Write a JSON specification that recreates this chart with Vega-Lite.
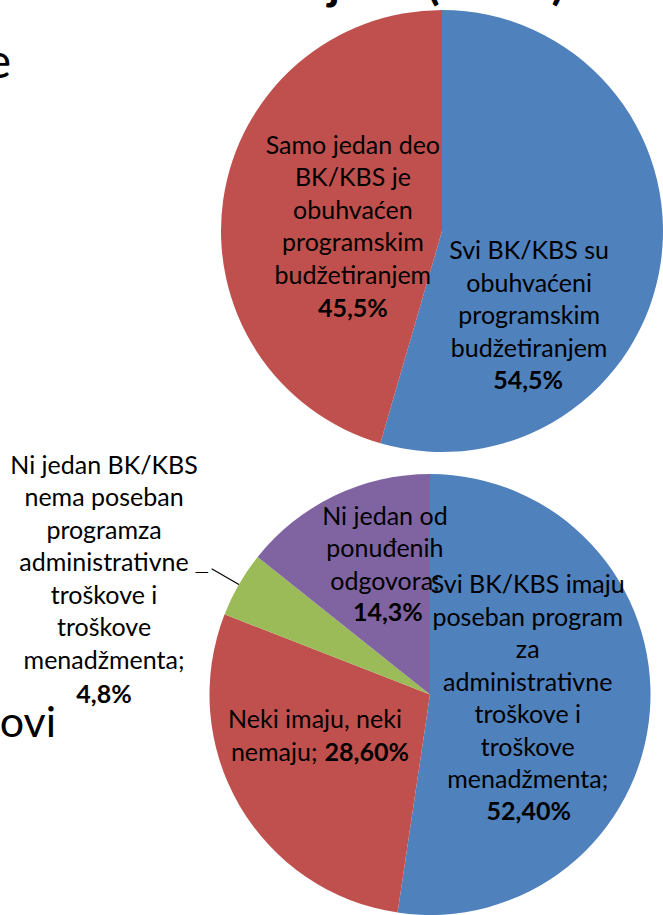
{
  "$schema": "https://vega.github.io/schema/vega-lite/v6.json",
  "padding": 0,
  "background": "white",
  "columns": 2,
  "align": "none",
  "bounds": "flush",
  "spacing": {"row": 12, "column": 0},
  "resolve": {"scale": {"color": "independent"}},
  "config": {
    "view": {"stroke": null},
    "font": "Lato",
    "text": {"font": "Lato", "fontSize": 25, "lineHeight": 32.5, "baseline": "middle", "align": "center", "color": "black"}
  },
  "datasets": {
    "top": [
      {"k": "Svi BK/KBS su obuhvaćeni programskim budžetiranjem", "v": 54.5, "o": 1, "lab": "Svi BK/KBS su\nobuhvaćeni\nprogramskim\nbudžetiranjem", "pct": "54,5%"},
      {"k": "Samo jedan deo BK/KBS je obuhvaćen programskim budžetiranjem", "v": 45.5, "o": 2, "lab": "Samo jedan deo\nBK/KBS je\nobuhvaćen\nprogramskim\nbudžetiranjem", "pct": "45,5%"}
    ],
    "bottom": [
      {"k": "Svi BK/KBS imaju poseban program za administrativne troškove i troškove menadžmenta", "v": 52.4, "o": 1, "lab": "Svi BK/KBS imaju\nposeban program\nza\nadministrativne\ntroškove i\ntroškove\nmenadžmenta;", "lab2": "", "pct": "52,40%"},
      {"k": "Neki imaju, neki nemaju", "v": 28.6, "o": 2, "lab": "Neki imaju, neki", "lab2": "nemaju;", "pct": "28,60%"},
      {"k": "Ni jedan BK/KBS nema poseban programza administrativne troškove i troškove menadžmenta", "v": 4.8, "o": 3, "lab": "Ni jedan BK/KBS\nnema poseban\nprogramza\nadministrativne\ntroškove i\ntroškove\nmenadžmenta;", "lab2": "", "pct": "4,8%"},
      {"k": "Ni jedan od ponuđenih odgovora", "v": 14.3, "o": 4, "lab": "Ni jedan od\nponuđenih\nodgovora;", "lab2": "", "pct": "14,3%"}
    ]
  },
  "concat": [
    {
      "width": 221,
      "height": 462,
      "data": {"values": [{"t": "e"}]},
      "mark": {"type": "text", "fontSize": 48, "align": "right", "baseline": "alphabetic", "dx": -99.5, "dy": -153, "clip": true},
      "encoding": {"text": {"field": "t", "type": "nominal"}}
    },
    {
      "width": 442,
      "height": 462,
      "layer": [
        {
          "data": {"name": "top"},
          "encoding": {
            "theta": {"field": "v", "type": "quantitative", "stack": true},
            "order": {"field": "o", "type": "quantitative"}
          },
          "layer": [
            {
              "mark": {"type": "arc", "radius": 221},
              "encoding": {
                "color": {"field": "k", "type": "nominal", "legend": null,
                  "scale": {"domain": ["Svi BK/KBS su obuhvaćeni programskim budžetiranjem", "Samo jedan deo BK/KBS je obuhvaćen programskim budžetiranjem"], "range": ["#4F81BD", "#C0504D"]}}
              }
            },
            {
              "mark": {"type": "text", "radius": 88, "dx": -2, "dy": -73, "lineBreak": "\n"},
              "encoding": {"detail": {"field": "k"}, "text": {"condition": {"test": "datum.o === 2", "field": "lab", "type": "nominal"}, "value": ""}}
            },
            {
              "mark": {"type": "text", "radius": 88, "dx": -2, "dy": 90, "fontWeight": "bold"},
              "encoding": {"detail": {"field": "k"}, "text": {"condition": {"test": "datum.o === 2", "field": "pct", "type": "nominal"}, "value": ""}}
            },
            {
              "mark": {"type": "text", "radius": 88, "dx": 0, "dy": 8, "lineBreak": "\n"},
              "encoding": {"detail": {"field": "k"}, "text": {"condition": {"test": "datum.o === 1", "field": "lab", "type": "nominal"}, "value": ""}}
            },
            {
              "mark": {"type": "text", "radius": 88, "dx": -1, "dy": 138, "fontWeight": "bold"},
              "encoding": {"detail": {"field": "k"}, "text": {"condition": {"test": "datum.o === 1", "field": "pct", "type": "nominal"}, "value": ""}}
            }
          ]
        },
        {
          "data": {"values": [{"t": "j"}]},
          "mark": {"type": "text", "fontSize": 48, "fontWeight": "bold", "baseline": "alphabetic", "dx": -108, "dy": -232, "clip": true},
          "encoding": {"text": {"field": "t", "type": "nominal"}}
        },
        {
          "data": {"values": [{"t": "("}]},
          "mark": {"type": "text", "fontSize": 48, "fontWeight": "bold", "baseline": "alphabetic", "dx": -9, "dy": -232, "clip": true},
          "encoding": {"text": {"field": "t", "type": "nominal"}}
        },
        {
          "data": {"values": [{"t": ")"}]},
          "mark": {"type": "text", "fontSize": 48, "fontWeight": "bold", "baseline": "alphabetic", "dx": 116, "dy": -232, "clip": true},
          "encoding": {"text": {"field": "t", "type": "nominal"}}
        }
      ]
    },
    {
      "width": 221,
      "height": 441,
      "data": {"values": [{"t": "ovi"}]},
      "mark": {"type": "text", "fontSize": 43, "align": "right", "baseline": "alphabetic", "dx": -54.5, "dy": 42.5, "clip": true},
      "encoding": {"text": {"field": "t", "type": "nominal"}}
    },
    {
      "width": 418,
      "height": 441,
      "data": {"name": "bottom"},
      "encoding": {
        "theta": {"field": "v", "type": "quantitative", "stack": true},
        "order": {"field": "o", "type": "quantitative"}
      },
      "layer": [
        {
          "mark": {"type": "arc", "radius": 220.5},
          "encoding": {
            "color": {"field": "k", "type": "nominal", "legend": null,
              "scale": {"domain": ["Svi BK/KBS imaju poseban program za administrativne troškove i troškove menadžmenta", "Neki imaju, neki nemaju", "Ni jedan BK/KBS nema poseban programza administrativne troškove i troškove menadžmenta", "Ni jedan od ponuđenih odgovora"], "range": ["#4F81BD", "#C0504D", "#9BBB59", "#8064A2"]}}
          }
        },
        {
          "mark": {"type": "arc", "radius": 252, "radius2": 220.5, "padAngle": 1, "filled": false, "stroke": "black", "strokeWidth": 1.2},
          "encoding": {"detail": {"field": "k"}, "strokeOpacity": {"condition": {"test": "datum.o === 3", "value": 1}, "value": 0}}
        },
        {
          "mark": {"type": "text", "radius": 252, "align": "right", "fontSize": 14, "font": "DejaVu Sans", "dx": -3, "dy": 3},
          "encoding": {"detail": {"field": "k"}, "text": {"condition": {"test": "datum.o === 3", "value": "—"}, "value": ""}}
        },
        {
          "mark": {"type": "text", "radius": 98, "dx": 0, "dy": -116.5, "lineBreak": "\n"},
          "encoding": {"detail": {"field": "k"}, "text": {"condition": {"test": "datum.o === 1", "field": "lab", "type": "nominal"}, "value": ""}}
        },
        {
          "mark": {"type": "text", "radius": 98, "dx": 1, "dy": 110, "fontWeight": "bold"},
          "encoding": {"detail": {"field": "k"}, "text": {"condition": {"test": "datum.o === 1", "field": "pct", "type": "nominal"}, "value": ""}}
        },
        {
          "mark": {"type": "text", "radius": 115, "dx": -15.5, "dy": -32},
          "encoding": {"detail": {"field": "k"}, "text": {"condition": {"test": "datum.o === 2", "field": "lab", "type": "nominal"}, "value": ""}}
        },
        {
          "mark": {"type": "text", "radius": 115, "dx": -13, "dy": 1, "align": "right"},
          "encoding": {"detail": {"field": "k"}, "text": {"condition": {"test": "datum.o === 2", "field": "lab2", "type": "nominal"}, "value": ""}}
        },
        {
          "mark": {"type": "text", "radius": 115, "dx": -6, "dy": 1, "align": "left", "fontWeight": "bold"},
          "encoding": {"detail": {"field": "k"}, "text": {"condition": {"test": "datum.o === 2", "field": "pct", "type": "nominal"}, "value": ""}}
        },
        {
          "mark": {"type": "text", "radius": 150, "dx": 20, "dy": -42.5, "lineBreak": "\n"},
          "encoding": {"detail": {"field": "k"}, "text": {"condition": {"test": "datum.o === 4", "field": "lab", "type": "nominal"}, "value": ""}}
        },
        {
          "mark": {"type": "text", "radius": 150, "dx": 23, "dy": 54, "fontWeight": "bold"},
          "encoding": {"detail": {"field": "k"}, "text": {"condition": {"test": "datum.o === 4", "field": "pct", "type": "nominal"}, "value": ""}}
        },
        {
          "mark": {"type": "text", "radius": 300, "dx": -66, "dy": -79, "lineBreak": "\n"},
          "encoding": {"detail": {"field": "k"}, "text": {"condition": {"test": "datum.o === 3", "field": "lab", "type": "nominal"}, "value": ""}}
        },
        {
          "mark": {"type": "text", "radius": 300, "dx": -66, "dy": 150, "fontWeight": "bold"},
          "encoding": {"detail": {"field": "k"}, "text": {"condition": {"test": "datum.o === 3", "field": "pct", "type": "nominal"}, "value": ""}}
        }
      ]
    }
  ]
}
